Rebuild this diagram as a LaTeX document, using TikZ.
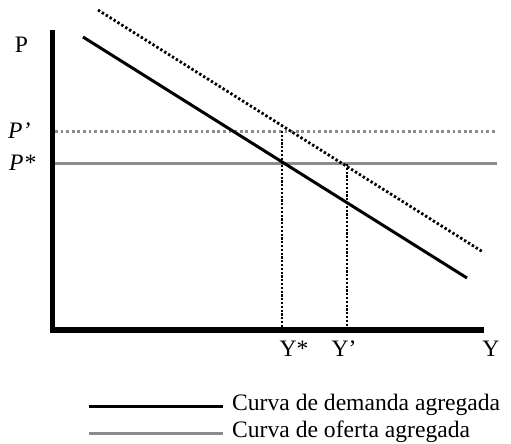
\documentclass[tikz,border=0pt]{standalone}
\usepackage{fontspec}
\setmainfont{Liberation Serif}
\usetikzlibrary{positioning}

\begin{document}
\begin{tikzpicture}[
  x=1pt, y=-1pt,
  axis/.style={
    line width=5.5pt,
    black,
    line join=miter
  },
  demand/.style={
    line width=3pt,
    black
  },
  shifted/.style={
    line width=2.8pt,
    black,
    dash pattern=on 2.4pt off 2.2pt
  },
  supply/.style={
    line width=3pt,
    black!45
  },
  guide/.style={
    line width=3pt,
    black!45,
    dash pattern=on 2.8pt off 2.8pt
  },
  drop/.style={
    line width=2.6pt,
    black,
    dash pattern=on 2.2pt off 1.6pt
  },
  lbl/.style={
    inner sep=0pt,
    font=\fontsize{23.6}{28}\selectfont
  }
]
\useasboundingbox (0,0) rectangle (511,444);

% Axis corners
\coordinate (ytop) at (52.5,30);
\coordinate (origin) at (52.5,330);
\coordinate (xend) at (484,330);

% Price levels
\coordinate (pprime) at (55,131);
\coordinate (pstar) at (55,163);
\coordinate (pprimeend) at (497,131);
\coordinate (pstarend) at (497,163);

\draw[guide] (pprime) -- (pprimeend);
\draw[supply] (pstar) -- (pstarend);

% Demand curves
\coordinate (dA) at (83,37);
\coordinate (dB) at (467,278);
\coordinate (sA) at (98,10);
\coordinate (sB) at (483,252);

\draw[demand] (dA) -- (dB);
\draw[shifted] (sA) -- (sB);

% Equilibria
\coordinate (eqstar) at (282,131);
\coordinate (eqprime) at (347,164);

\draw[drop] (eqstar) -- (eqstar |- origin);
\draw[drop] (eqprime) -- (eqprime |- origin);

\draw[axis] (ytop) -- (origin) -- (xend);

% Axis labels
\node[lbl] (plab) at (21.5,45) {P};
\node[lbl,anchor=west] (pplab) at (8,131) {\textit{P’}};
\node[lbl,anchor=west] (pslab) at (9,163) {\textit{P*}};

\node[lbl] (yslab) at (294,349) {Y*};
\node[lbl] (yplab) at (344,349) {Y’};
\node[lbl] (ylab) at (491,349) {Y};

% Legend
\node[lbl,anchor=base west] (demtext) at (232,410)
  {Curva de demanda agregada};
\node[lbl,anchor=base west] (suptext) at (232,437)
  {Curva de oferta agregada};

\coordinate (legdem) at (89,406);
\coordinate (legsup) at (89,433);

\draw[demand] (legdem) -- ([xshift=-9pt]legdem -| demtext.west);
\draw[supply] (legsup) -- ([xshift=-9pt]legsup -| suptext.west);

\end{tikzpicture}
\end{document}
